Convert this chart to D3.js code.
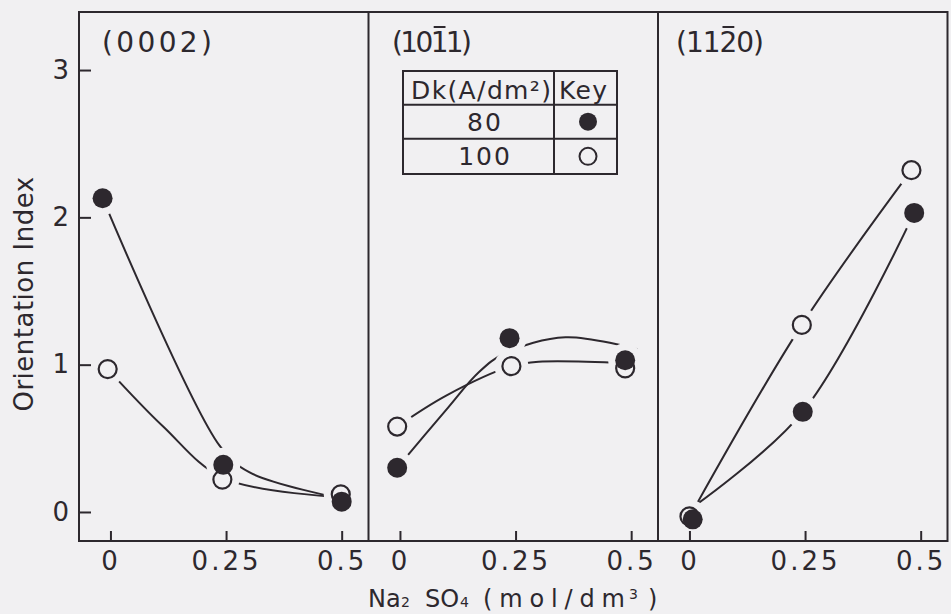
<!DOCTYPE html>
<html>
<head>
<meta charset="utf-8">
<script src="https://cdn.jsdelivr.net/npm/d3@7"></script>
<style>
  html, body { margin: 0; padding: 0; background: #f1f0f2; }
  svg { display: block; }
  text { font-family: "DejaVu Sans", sans-serif; fill: #2d282e; }
</style>
</head>
<body>
<svg id="chart"></svg>
<script>
const panelLabels = ["(0002)", "(1011)", "(1120)"];
const barredDigit = [-1, 3, 3];   // character carrying the bar (Miller-Bravais index)
const xTicks = [0, 0.25, 0.5];
const yTicks = [0, 1, 2, 3];
const legendHead = ["Dk(A/dm\u00b2)", "Key"];
const legendRows = ["80", "100"];

// one row per panel
const dk80X = [[-0.017, 0.244, 0.5], [-0.006, 0.237, 0.487], [0.007, 0.245, 0.486]];
const dk80Y = [[2.13, 0.32, 0.07], [0.30, 1.18, 1.03], [-0.05, 0.68, 2.03]];
const dk100X = [[-0.006, 0.242, 0.498], [-0.006, 0.241, 0.487], [0.0, 0.243, 0.48]];
const dk100Y = [[0.97, 0.22, 0.12], [0.58, 0.99, 0.975], [-0.03, 1.27, 2.32]];

// hand drawn curves (nodes)
const fit80 = [
    [[-0.017, 2.13], [0.236, 0.45], [0.3, 0.27], [0.5, 0.09]],
    [[-0.006, 0.3], [0.099, 0.69], [0.171, 0.95], [0.228, 1.08], [0.358, 1.186], [0.513, 1.105]],
    [[0.015, 0.05], [0.245, 0.68], [0.486, 2.03]]
];
const fit100 = [
    [[-0.006, 0.97], [0.114, 0.58], [0.244, 0.23], [0.5, 0.1]],
    [[-0.006, 0.58], [0.1, 0.79], [0.241, 0.99], [0.3, 1.02], [0.487, 1.01]],
    [[0.015, 0.05], [0.243, 1.27], [0.48, 2.32]]
];

const ink = "#2d282e", bg = "#f1f0f2";
const width = 951, height = 614;
const plotLeft = 79, plotTop = 12, plotBottom = 541, panelW = 289.5;
const titleDx = [23, 23.5, 18], titleLen = [110, 80, 88];

let svg = d3.select("#chart")
    .attr("width", width)
    .attr("height", height);

svg.append("rect").attr("width", width).attr("height", height).attr("fill", bg);

let y = d3.scaleLinear().domain([-0.197, 3.394]).range([plotBottom, plotTop]);
let x = d3.scaleLinear().domain([-0.068, 0.558]).range([0, panelW]);

let line = d3.line()
    .x(d => x(d[0]))
    .y(d => y(d[1]))
    .curve(d3.curveCatmullRom.alpha(0.5));

panelLabels.forEach((label, i) => {
    let g = svg.append("g").attr("transform", `translate(${plotLeft + i * panelW},0)`);

    let pts80 = dk80X[i].map((v, k) => [v, dk80Y[i][k]]);
    let pts100 = dk100X[i].map((v, k) => [v, dk100Y[i][k]]);

    g.selectAll("path.fit")
        .data([fit80[i], fit100[i]])
        .join("path")
        .attr("class", "fit")
        .attr("d", d => line(d))
        .attr("fill", "none")
        .attr("stroke", ink)
        .attr("stroke-width", 2);

    // gaps around the markers
    g.selectAll("circle.halo")
        .data(pts80.concat(pts100))
        .join("circle")
        .attr("class", "halo")
        .attr("cx", d => x(d[0]))
        .attr("cy", d => y(d[1]))
        .attr("r", 17)
        .attr("fill", bg);

    let xAxis = g.append("g")
        .attr("transform", `translate(0,${plotBottom})`)
        .call(d3.axisBottom(x).tickValues(xTicks).tickSize(-10).tickPadding(11)
            .tickFormat(d => d === 0 ? "0" : String(d)));
    xAxis.select(".domain").remove();
    xAxis.selectAll("line").attr("stroke", ink).attr("stroke-width", 2);
    xAxis.selectAll("text")
        .attr("fill", ink)
        .style("font-size", "26px")
        .style("letter-spacing", "3px")
        .style("font-family", "DejaVu Sans");

    let title = g.append("text")
        .attr("x", titleDx[i])
        .attr("y", 52)
        .attr("textLength", titleLen[i])
        .attr("lengthAdjust", "spacing")
        .style("font-size", "28px")
        .text(label);
    if (barredDigit[i] >= 0) {
        let box = title.node().getExtentOfChar(barredDigit[i]);
        g.append("line")
            .attr("x1", box.x + 3).attr("x2", box.x + box.width - 3)
            .attr("y1", 27).attr("y2", 27)
            .attr("stroke", ink).attr("stroke-width", 2);
    }

    g.selectAll("circle.p100")
        .data(pts100)
        .join("circle")
        .attr("class", "p100")
        .attr("cx", d => x(d[0]))
        .attr("cy", d => y(d[1]))
        .attr("r", 9)
        .attr("fill", bg)
        .attr("stroke", ink)
        .attr("stroke-width", 2.2);

    g.selectAll("circle.p80")
        .data(pts80)
        .join("circle")
        .attr("class", "p80")
        .attr("cx", d => x(d[0]))
        .attr("cy", d => y(d[1]))
        .attr("r", 10)
        .attr("fill", ink);
});

// frame and dividers
svg.append("rect")
    .attr("x", plotLeft).attr("y", plotTop)
    .attr("width", 3 * panelW).attr("height", plotBottom - plotTop)
    .attr("fill", "none").attr("stroke", ink).attr("stroke-width", 2);
[1, 2].forEach(i => {
    svg.append("line")
        .attr("x1", plotLeft + i * panelW).attr("x2", plotLeft + i * panelW)
        .attr("y1", plotTop).attr("y2", plotBottom)
        .attr("stroke", ink).attr("stroke-width", 2);
});

let yAxis = svg.append("g")
    .attr("transform", `translate(${plotLeft},0)`)
    .call(d3.axisLeft(y).tickValues(yTicks).tickSize(-12).tickPadding(10).tickFormat(d3.format("d")));
yAxis.select(".domain").remove();
yAxis.selectAll("line").attr("stroke", ink).attr("stroke-width", 2);
yAxis.selectAll("text")
    .attr("fill", ink)
    .style("font-size", "26px")
    .style("font-family", "DejaVu Sans");

svg.append("text")
    .attr("transform", "translate(33,294) rotate(-90)")
    .style("text-anchor", "middle")
    .style("font-size", "26px")
    .style("letter-spacing", "0.5px")
    .text("Orientation Index");

// x title: Na2 SO4 (mol/dm3)
let xt = svg.append("g").style("font-size", "24px");
xt.append("text").attr("x", 368).attr("y", 607).text("Na");
xt.append("text").attr("x", 401).attr("y", 607).style("font-size", "14px").text("2");
xt.append("text").attr("x", 425).attr("y", 607).text("SO");
xt.append("text").attr("x", 460).attr("y", 607).style("font-size", "14px").text("4");
xt.append("text").attr("x", 483).attr("y", 607).attr("textLength", 142)
    .attr("lengthAdjust", "spacing").text("(mol/dm");
xt.append("text").attr("x", 629).attr("y", 599).style("font-size", "14px").text("3");
xt.append("text").attr("x", 648).attr("y", 607).text(")");

// legend table inside the middle panel
let lg = svg.append("g");
let tx0 = 403, tx1 = 617, tcol = 554, trows = [71, 104.7, 138.7, 174];
lg.append("rect")
    .attr("x", tx0).attr("y", trows[0])
    .attr("width", tx1 - tx0).attr("height", trows[3] - trows[0])
    .attr("fill", bg).attr("stroke", ink).attr("stroke-width", 2);
lg.append("line").attr("x1", tcol).attr("x2", tcol).attr("y1", trows[0]).attr("y2", trows[3])
    .attr("stroke", ink).attr("stroke-width", 2);
[1, 2].forEach(r => {
    lg.append("line").attr("x1", tx0).attr("x2", tx1).attr("y1", trows[r]).attr("y2", trows[r])
        .attr("stroke", ink).attr("stroke-width", 2);
});
lg.append("text").attr("x", 411).attr("y", 99).attr("textLength", 140).style("font-size", "25px").text(legendHead[0]);
lg.append("text").attr("x", 559).attr("y", 99).attr("textLength", 48).style("font-size", "25px").text(legendHead[1]);
legendRows.forEach((r, k) => {
    let cy = (trows[k + 1] + trows[k + 2]) / 2;
    lg.append("text")
        .attr("x", 485)
        .attr("y", cy + 9)
        .style("text-anchor", "middle")
        .style("font-size", "25px")
        .style("letter-spacing", "2px")
        .text(r);
    lg.append("circle")
        .attr("cx", 588).attr("cy", cy)
        .attr("r", k === 0 ? 9 : 8.5)
        .attr("fill", k === 0 ? ink : bg)
        .attr("stroke", ink)
        .attr("stroke-width", k === 0 ? 0 : 2);
});
</script>
</body>
</html>
